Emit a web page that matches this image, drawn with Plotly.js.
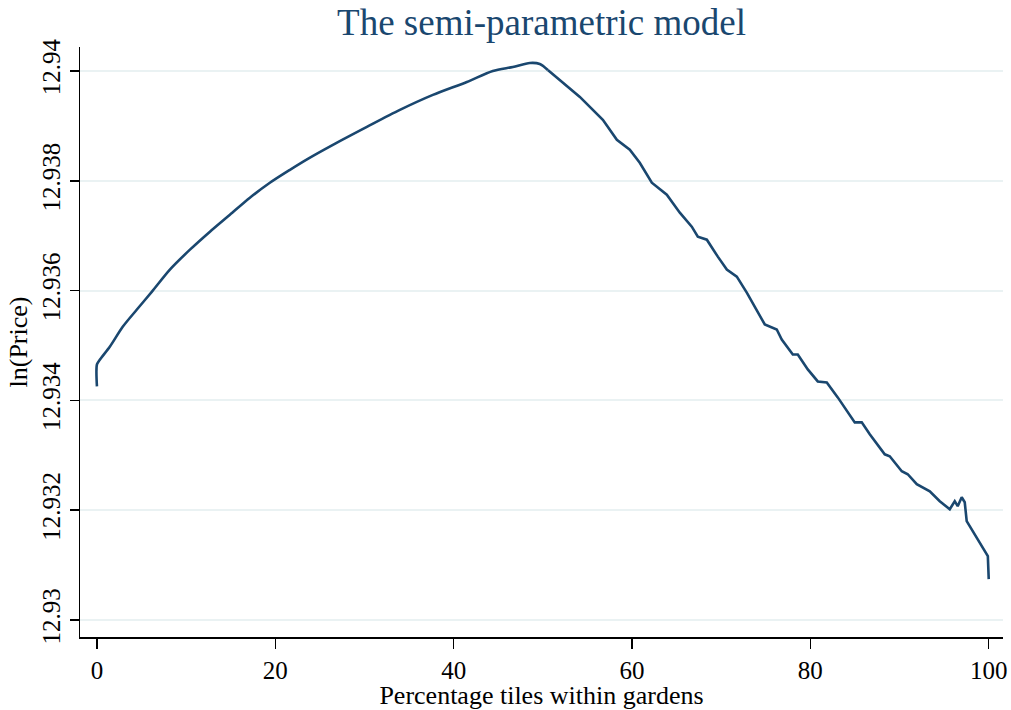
<!DOCTYPE html>
<html>
<head>
<meta charset="utf-8">
<script src="https://cdn.plot.ly/plotly-3.0.1.min.js"></script>
<style>html,body{margin:0;padding:0;background:#fff;}#chart{width:1011px;height:710px;}</style>
</head>
<body>
<div id="chart"></div>
<script>
const pctTiles = [0, 0, 0.34, 1.46, 2.91, 4.48, 6.17, 8.18, 10.43, 12.67, 14.91, 17.15, 19.39, 21.64, 23.65, 26.46, 30.27, 33.97, 37.67, 41.48, 44.39, 46.64, 48.54, 49.66, 50.56, 51.91, 54.15, 56.73, 58.30, 59.75, 60.87, 62.22, 63.90, 65.36, 66.70, 67.38, 68.39, 69.62, 70.63, 71.75, 72.87, 74.89, 76.23, 76.79, 78.03, 78.59, 79.71, 80.83, 81.84, 83.07, 84.98, 85.76, 86.66, 88.34, 88.90, 90.25, 90.92, 91.93, 93.39, 94.51, 95.63, 96.19, 96.52, 96.97, 97.31, 97.53, 99.9, 100];
const lnPrice = [12.934255, 12.934655, 12.934745, 12.934982, 12.935345, 12.935655, 12.935982, 12.936382, 12.936745, 12.937073, 12.937382, 12.937691, 12.937964, 12.9382, 12.9384, 12.938655, 12.938982, 12.939291, 12.939564, 12.9398, 12.94, 12.940073, 12.940145, 12.940127, 12.940018, 12.939836, 12.939527, 12.939109, 12.938745, 12.938564, 12.938327, 12.937964, 12.937745, 12.937418, 12.937164, 12.936982, 12.936927, 12.936618, 12.936382, 12.936255, 12.935964, 12.935382, 12.935291, 12.935109, 12.934836, 12.934836, 12.934564, 12.934345, 12.934327, 12.934055, 12.9336, 12.9336, 12.933382, 12.933018, 12.932982, 12.932709, 12.932655, 12.932473, 12.932345, 12.932164, 12.932018, 12.932164, 12.932073, 12.932236, 12.932145, 12.9318, 12.931164, 12.930745];
const yTickVals = [12.93, 12.932, 12.934, 12.936, 12.938, 12.94];
const yTickText = ["12.93", "12.932", "12.934", "12.936", "12.938", "12.94"];
const xTickVals = [0, 20, 40, 60, 80, 100];

const navy = '#1a476f';
const serif = 'Liberation Serif, Times New Roman, serif';
const split = 25; // index where the smooth rising part ends

const common = {type: 'scatter', mode: 'lines', hoverinfo: 'skip', showlegend: false};
Plotly.newPlot('chart', [
  Object.assign({}, common, {
    x: pctTiles.slice(0, split), y: lnPrice.slice(0, split),
    line: {color: navy, width: 2.6, shape: 'spline', smoothing: 0.8}
  }),
  Object.assign({}, common, {
    x: pctTiles.slice(split - 1), y: lnPrice.slice(split - 1),
    line: {color: navy, width: 2.6}
  })
], {
  width: 1011, height: 710,
  margin: {l: 80, r: 8, t: 47, b: 73},
  paper_bgcolor: '#fff', plot_bgcolor: '#fff',
  font: {family: serif, color: '#000', size: 25},
  title: {text: 'The semi-parametric model', font: {family: serif, size: 37, color: navy}, x: 0.5, xref: 'paper', xanchor: 'center', y: 0.969, yref: 'container', yanchor: 'middle'},
  xaxis: {
    range: [-1.9, 101.6], tickvals: xTickVals, ticktext: xTickVals.map(String),
    showgrid: false, zeroline: false, showline: true, linecolor: '#000', linewidth: 1.5,
    ticks: 'outside', ticklen: 10, tickwidth: 1.5, tickcolor: '#000',
    tickfont: {family: serif, size: 25, color: '#000'},
    title: {text: 'Percentage tiles within gardens', font: {family: serif, size: 26, color: '#000'}, standoff: 0}
  },
  yaxis: {
    range: [12.929691, 12.940436], tickvals: yTickVals, ticktext: yTickText, tickangle: -90,
    showgrid: true, gridcolor: '#eaf2f3', gridwidth: 2, zeroline: false,
    showline: true, linecolor: '#000', linewidth: 1.5,
    ticks: 'outside', ticklen: 9, tickwidth: 1.5, tickcolor: '#000',
    tickfont: {family: serif, size: 25, color: '#000'},
    title: {text: 'ln(Price)', font: {family: serif, size: 26, color: '#000'}, standoff: 2}
  }
}, {staticPlot: true});
</script>
</body>
</html>
